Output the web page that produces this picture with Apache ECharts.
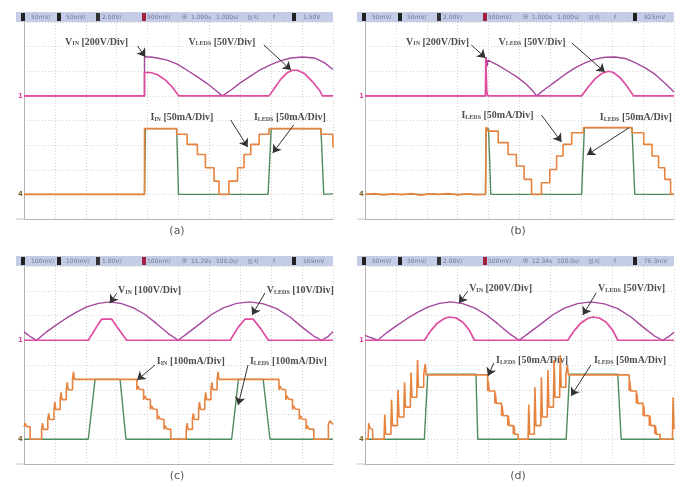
<!DOCTYPE html>
<html>
<head>
<meta charset="utf-8">
<script src="https://cdn.jsdelivr.net/npm/echarts@6/dist/echarts.min.js"></script>
<style>
html, body { margin: 0; padding: 0; background: #fff; }
#main { width: 682px; height: 487px; }
</style>
</head>
<body>
<div id="main"></div>
<script>
// every trace is [time in div, level in div], scope screen = 10 x 8 div

// (a)
var aVin = [[0,5],[3.9,5],[3.9,6.58],[4.1,6.58],[4.31,6.54],[4.63,6.45],[4.96,6.29],[5.28,6.04],[5.61,5.77],[5.93,5.5],[6.2,5.23],[6.42,5.0],[6.69,5.23],[7.01,5.54],[7.34,5.81],[7.66,6.07],[7.99,6.27],[8.31,6.43],[8.64,6.54],[9.02,6.58],[9.39,6.54],[9.72,6.35],[10,6.07]];
var aVled = [[0,5],[3.9,5],[3.9,5.95],[4.09,5.95],[4.31,5.87],[4.58,5.64],[4.79,5.37],[4.96,5.09],[5.01,5],[7.93,5],[8.1,5.3],[8.31,5.68],[8.53,5.95],[8.69,6.04],[8.85,6.04],[9.07,5.91],[9.34,5.57],[9.56,5.23],[9.66,5],[10,5]];
var aIin = [[0,1],[3.9,1],[3.9,3.67],[4.94,3.67],[4.94,3.44],[5.28,3.44],[5.28,3.03],[5.61,3.03],[5.61,2.62],[5.87,2.62],[5.87,2.08],[6.15,2.08],[6.15,1.54],[6.31,1.54],[6.31,1],[6.63,1],[6.63,1.54],[6.91,1.54],[6.91,2.08],[7.12,2.08],[7.12,2.62],[7.34,2.62],[7.34,3.03],[7.61,3.03],[7.61,3.44],[7.93,3.44],[7.93,3.67],[9.61,3.67],[9.61,3.44],[9.99,3.44],[10,2.9]];
var aIled = [[0,1],[3.9,1],[3.93,3.67],[4.94,3.67],[5.0,1],[7.9,1],[8.0,3.67],[9.61,3.67],[9.7,1],[10,1.02]];

// (b)
var bVin = [[0,5],[3.9,5],[3.92,6.58],[3.95,6.2],[3.98,6.45],[4.31,6.24],[4.63,6.0],[4.96,5.73],[5.23,5.46],[5.44,5.19],[5.55,5.0],[5.82,5.27],[6.15,5.57],[6.47,5.87],[6.8,6.14],[7.12,6.34],[7.45,6.49],[7.77,6.57],[8.1,6.58],[8.42,6.52],[8.74,6.35],[9.07,6.14],[9.39,5.87],[9.72,5.5],[10,5.16]];
var bVled = [[0,5],[3.9,5],[3.91,6.55],[3.94,5.2],[3.97,5],[7.01,5],[7.23,5.37],[7.45,5.7],[7.66,5.91],[7.88,6.0],[8.04,5.95],[8.26,5.73],[8.47,5.41],[8.69,5.0],[10,5]];
var bIin = [[0,1.0],[0.3,1.03],[0.6,0.98],[0.9,1.02],[1.2,0.99],[1.5,1.03],[1.8,0.97],[2.1,1.02],[2.4,1.0],[2.7,1.03],[3.0,0.98],[3.3,1.02],[3.6,0.99],[3.9,1.0],[3.92,3.73],[3.98,3.57],[4.31,3.57],[4.31,3.1],[4.63,3.1],[4.63,2.62],[4.9,2.62],[4.9,2.15],[5.15,2.15],[5.15,1.61],[5.39,1.61],[5.39,1],[5.71,1],[5.71,1.47],[5.98,1.47],[5.98,2.01],[6.2,2.01],[6.2,2.56],[6.41,2.56],[6.41,3.03],[6.69,3.03],[6.69,3.5],[7.07,3.5],[7.07,3.71],[8.64,3.71],[8.64,3.5],[9.02,3.5],[9.02,3.03],[9.29,3.03],[9.29,2.56],[9.5,2.56],[9.5,2.08],[9.7,2.08],[9.7,1.61],[9.89,1.61],[9.89,1],[10,1]];
var bIled = [[0,1],[3.9,1],[3.92,3.71],[4.0,3.65],[4.07,1],[7.01,1],[7.1,3.71],[8.64,3.71],[8.73,1],[10,1]];

// (c)
var cVin = [[0,5.34],[0.19,5.16],[0.41,5.0],[0.73,5.34],[1.06,5.63],[1.38,5.9],[1.7,6.14],[2.03,6.35],[2.41,6.49],[2.78,6.55],[3.16,6.48],[3.54,6.31],[3.92,6.04],[4.29,5.67],[4.67,5.27],[4.99,5.0],[5.32,5.31],[5.7,5.67],[6.07,6.04],[6.45,6.31],[6.88,6.49],[7.31,6.55],[7.75,6.47],[8.18,6.28],[8.61,5.94],[8.99,5.54],[9.36,5.18],[9.63,5.0],[9.85,5.16],[10,5.34]];
var cVled = [[0,5],[2.08,5],[2.35,5.54],[2.51,5.85],[2.84,5.85],[3.05,5.47],[3.32,5],[6.67,5],[6.94,5.54],[7.15,5.85],[7.42,5.85],[7.66,5.47],[7.91,5],[10,5]];
var cIin = [[0,1.5],[0.04,1.65],[0.08,1.52],[0.2,1.5],[0.2,1.0],[0.57,1.0],
  [0.57,1.4],[0.6,1.65],[0.63,1.4],[0.77,1.4],[0.77,1.8],[0.8,2.05],[0.83,1.8],[0.97,1.8],
  [0.97,2.2],[1.0,2.5],[1.03,2.2],[1.17,2.2],[1.17,2.6],[1.2,2.9],[1.23,2.6],[1.37,2.6],
  [1.37,3.0],[1.4,3.3],[1.43,3.0],[1.57,3.0],[1.57,3.42],[1.6,3.72],[1.63,3.42],[3.65,3.42],
  [3.65,3.0],[3.69,3.15],[3.74,3.02],[3.87,3.0],[3.87,2.6],[3.91,2.75],[3.96,2.62],[4.09,2.6],
  [4.09,2.2],[4.13,2.35],[4.18,2.22],[4.31,2.2],[4.31,1.8],[4.35,1.95],[4.4,1.82],[4.53,1.8],
  [4.53,1.4],[4.57,1.55],[4.62,1.42],[4.75,1.4],[4.75,1.0],[5.25,1.0],
  [5.25,1.4],[5.28,1.65],[5.31,1.4],[5.45,1.4],[5.45,1.8],[5.48,2.05],[5.51,1.8],[5.65,1.8],
  [5.65,2.2],[5.68,2.5],[5.71,2.2],[5.85,2.2],[5.85,2.6],[5.88,2.9],[5.91,2.6],[6.05,2.6],
  [6.05,3.0],[6.08,3.3],[6.11,3.0],[6.25,3.0],[6.25,3.42],[6.28,3.72],[6.31,3.42],[8.25,3.42],
  [8.25,3.0],[8.29,3.15],[8.34,3.02],[8.47,3.0],[8.47,2.6],[8.51,2.75],[8.56,2.62],[8.69,2.6],
  [8.69,2.2],[8.73,2.35],[8.78,2.22],[8.91,2.2],[8.91,1.8],[8.95,1.95],[9.0,1.82],[9.13,1.8],
  [9.13,1.4],[9.17,1.55],[9.22,1.42],[9.38,1.4],[9.38,1.0],[9.85,1.0],[9.85,1.6],[9.9,1.75],[10,1.6]];
var cIled = [[0,1],[2.08,1],[2.3,3.42],[3.11,3.42],[3.3,1],[6.72,1],[6.94,3.42],[7.74,3.42],[7.96,1],[10,1]];

// (d)
var dVin = [[0,5.2],[0.2,5.1],[0.41,5.0],[0.73,5.33],[1.06,5.62],[1.38,5.89],[1.7,6.13],[2.03,6.34],[2.41,6.49],[2.78,6.55],[3.16,6.48],[3.54,6.31],[3.92,6.04],[4.29,5.67],[4.67,5.27],[4.99,5.0],[5.32,5.31],[5.7,5.66],[6.07,6.02],[6.45,6.3],[6.88,6.48],[7.31,6.55],[7.75,6.47],[8.18,6.28],[8.61,5.94],[8.99,5.54],[9.36,5.18],[9.63,5.0],[9.85,5.17],[10,5.32]];
var dVled = [[0,5],[1.92,5],[2.14,5.4],[2.35,5.7],[2.57,5.88],[2.73,5.94],[2.95,5.9],[3.16,5.74],[3.38,5.4],[3.54,5],[6.56,5],[6.78,5.4],[6.99,5.7],[7.21,5.88],[7.37,5.94],[7.58,5.9],[7.8,5.74],[8.02,5.4],[8.18,5],[10,5]];
var dIin = [[0,1],[0.1,1],[0.12,1.65],[0.16,1.45],[0.24,1.4],[0.26,1.0],[0.62,1.0],
  [0.62,1.2],[0.64,2.0],[0.67,1.2],[0.84,1.2],[0.84,1.55],[0.86,2.6],[0.89,1.55],[1.05,1.55],
  [1.05,1.9],[1.07,3.0],[1.1,1.9],[1.26,1.9],[1.26,2.3],[1.28,3.3],[1.31,2.3],[1.47,2.3],
  [1.47,2.7],[1.49,3.7],[1.52,2.7],[1.68,2.7],[1.68,3.1],[1.7,4.2],[1.73,3.1],[1.9,3.1],
  [1.9,3.6],[1.95,4.05],[1.98,3.6],[3.97,3.6],
  [3.97,2.95],[3.99,3.35],[4.02,2.95],[4.2,2.95],[4.2,2.45],[4.22,2.85],[4.25,2.45],[4.42,2.45],
  [4.42,1.95],[4.44,2.35],[4.47,1.95],[4.62,1.95],[4.62,1.55],[4.64,1.95],[4.67,1.55],[4.8,1.55],
  [4.8,1.2],[4.82,1.55],[4.85,1.2],[4.95,1.2],[4.95,1.0],[5.28,1.0],
  [5.28,1.2],[5.3,2.4],[5.33,1.2],[5.48,1.2],[5.48,1.55],[5.5,3.1],[5.53,1.55],[5.69,1.55],
  [5.69,1.9],[5.71,3.5],[5.74,1.9],[5.9,1.9],[5.9,2.3],[5.92,3.8],[5.95,2.3],[6.1,2.3],
  [6.1,2.7],[6.12,4.2],[6.15,2.7],[6.3,2.7],[6.3,3.1],[6.32,4.4],[6.35,3.1],[6.5,3.1],
  [6.5,3.6],[6.55,4.0],[6.58,3.6],[8.55,3.6],
  [8.55,2.95],[8.57,3.35],[8.6,2.95],[8.78,2.95],[8.78,2.45],[8.8,2.85],[8.83,2.45],[9.0,2.45],
  [9.0,1.95],[9.02,2.35],[9.05,1.95],[9.2,1.95],[9.2,1.55],[9.22,1.95],[9.25,1.55],[9.38,1.55],
  [9.38,1.2],[9.4,1.55],[9.43,1.2],[9.55,1.2],[9.55,1.0],[9.95,1.0],[9.97,2.7],[10,1.4]];
var dIled = [[0,1],[1.92,1],[2.03,3.63],[3.59,3.63],[3.65,1],[6.51,1],[6.62,3.63],[8.18,3.63],[8.29,1],[10,1]];

// notes: [x, y, letter, subscript, scale]
var aNotes = [[1.33,7.19,'V','IN','[200V/Div]'],[5.32,7.19,'V','LEDS','[50V/Div]'],[4.09,4.14,'I','IN','[50mA/Div]'],[7.44,4.14,'I','LEDS','[50mA/Div]']];
var bNotes = [[1.33,7.19,'V','IN','[200V/Div]'],[4.32,7.19,'V','LEDS','[50V/Div]'],[3.12,4.22,'I','LEDS','[50mA/Div]'],[7.6,4.14,'I','LEDS','[50mA/Div]']];
var cNotes = [[3.04,7.03,'V','IN','[100V/Div]'],[7.86,7.03,'V','LEDS','[10V/Div]'],[4.3,4.16,'I','IN','[100mA/Div]'],[7.31,4.16,'I','LEDS','[100mA/Div]']];
var dNotes = [[3.37,7.11,'V','IN','[200V/Div]'],[7.54,7.11,'V','LEDS','[50V/Div]'],[4.24,4.2,'I','LEDS','[50mA/Div]'],[7.41,4.2,'I','LEDS','[50mA/Div]']];

// arrows: [x1, y1, x2, y2]
var aArrows = [[3.67,7.03,3.93,6.58],[7.76,7.07,8.64,6.05],[6.69,4.02,7.24,2.92],[8.73,3.82,8.05,2.68]];
var bArrows = [[3.44,7.07,3.9,6.54],[6.69,7.15,7.76,5.97],[5.71,4.22,6.36,3.13],[8.54,3.7,7.18,2.6]];
var cArrows = [[3.0,6.9,2.78,6.5],[7.8,6.91,7.38,6.02],[4.24,4.0,3.66,3.39],[7.25,4.0,6.93,2.38]];
var dArrows = [[3.33,6.99,3.04,6.5],[7.48,6.91,7.05,6.02],[4.17,4.08,3.98,3.56],[7.31,4.0,6.67,2.75]];

// scope status bar text
var aHead = ['50mV/','50mV/','2.00V/','500mV/','1.000s','1.000s/','정지','f','1.50V'];
var bHead = ['50mV/','50mV/','2.00V/','500mV/','1.000s','1.000s/','정지','f','925mV'];
var cHead = ['100mV/','100mV/','1.00V/','100mV/','11.29s','100.0s/','정지','f','169mV'];
var dHead = ['50mV/','50mV/','2.00V/','500mV/','12.34s','100.0s/','정지','f','76.3mV'];

var captions = ['(a)','(b)','(c)','(d)'];

var panels = [
    {vin: aVin, vled: aVled, iin: aIin, iled: aIled, notes: aNotes, arrows: aArrows, head: aHead},
    {vin: bVin, vled: bVled, iin: bIin, iled: bIled, notes: bNotes, arrows: bArrows, head: bHead},
    {vin: cVin, vled: cVled, iin: cIin, iled: cIled, notes: cNotes, arrows: cArrows, head: cHead},
    {vin: dVin, vled: dVled, iin: dIin, iled: dIled, notes: dNotes, arrows: dArrows, head: dHead}
];

var boxes = [
    {left: 24, top: 22, width: 309, height: 197},
    {left: 365, top: 22, width: 309, height: 197},
    {left: 24, top: 266, width: 309, height: 198},
    {left: 365, top: 266, width: 309, height: 198}
];

var dom = document.getElementById('main');
var chart = echarts.init(dom, null, {width: 682, height: 487});

var grid = [], xAxis = [], yAxis = [], series = [], graphic = [];
var serif = 'Liberation Serif';

panels.forEach(function (p, i) {
    var b = boxes[i];
    grid.push({left: b.left, top: b.top, width: b.width, height: b.height, containLabel: false});
    xAxis.push({
        gridIndex: i, type: 'value', min: 0, max: 10, interval: 1,
        axisLabel: {show: false}, axisTick: {show: false},
        axisLine: {show: true, onZero: false, lineStyle: {color: '#b4b4b4', width: 1}},
        splitLine: {show: true, lineStyle: {color: '#d4d4d4', type: [1, 2], width: 1}}
    });
    yAxis.push({
        gridIndex: i, type: 'value', min: 0, max: 8, interval: 1,
        axisLabel: {show: false}, axisTick: {show: false},
        axisLine: {show: true, onZero: false, lineStyle: {color: '#b4b4b4', width: 1}},
        splitLine: {show: true, lineStyle: {color: '#d4d4d4', type: [1, 2], width: 1}}
    });

    function trace(data, color, w) {
        return {
            type: 'line', xAxisIndex: i, yAxisIndex: i, data: data,
            showSymbol: false, symbol: 'none', silent: true, animation: false,
            lineStyle: {color: color, width: w}
        };
    }
    var vin = trace(p.vin, '#a5479d', 1.4);
    vin.markLine = {
        silent: true, animation: false, symbol: ['none', 'arrow'], symbolSize: 8,
        label: {show: false},
        itemStyle: {color: '#333'},
        lineStyle: {color: '#333', width: 1, type: 'solid'},
        data: p.arrows.map(function (a) { return [{coord: [a[0], a[1]]}, {coord: [a[2], a[3]]}]; })
    };
    series.push(vin);
    series.push(trace(p.vled, '#e04c9f', 1.7));
    series.push(trace(p.iled, '#4f8b5e', 1.4));
    series.push(trace(p.iin, '#e6843f', 1.6));

    series.push({
        type: 'scatter', xAxisIndex: i, yAxisIndex: i, symbolSize: 0, silent: true, animation: false,
        data: p.notes.map(function (n) { return {value: [n[0], n[1]], main: n[2], sub: n[3], rest: n[4]}; }),
        label: {
            show: true, position: 'right', distance: 0,
            formatter: function (q) { return '{m|' + q.data.main + '}{s|' + q.data.sub + '}{t| ' + q.data.rest + '}'; },
            rich: {
                m: {fontFamily: serif, fontWeight: 'bold', fontSize: 10, color: '#222', lineHeight: 12},
                s: {fontFamily: serif, fontWeight: 'bold', fontSize: 6, color: '#222', lineHeight: 12, verticalAlign: 'bottom', padding: [0, 0, 1, 0]},
                t: {fontFamily: serif, fontWeight: 'bold', fontSize: 10, color: '#222', lineHeight: 12}
            }
        }
    });

    // status bar on top of the screen
    var ox = b.left - 8, oy = b.top - 10;
    var kids = [{type: 'rect', shape: {x: ox, y: oy, width: 317, height: 10}, style: {fill: '#c5cce6'}}];
    [[5, '#222'], [41, '#222'], [80, '#333'], [126, '#a0203e'], [276, '#222']].forEach(function (s) {
        kids.push({type: 'rect', shape: {x: ox + s[0], y: oy + 1, width: 4, height: 8}, style: {fill: s[1]}});
    });
    var tx = [15, 50, 86, 131, 175, 200, 231, 257, 287];
    p.head.forEach(function (t, k) {
        kids.push({type: 'text', x: ox + tx[k], y: oy + 5, style: {text: t, fill: '#6f7896', font: '6px "DejaVu Sans"', verticalAlign: 'middle'}});
    });
    kids.push({type: 'text', x: ox + 165, y: oy + 5, style: {text: '⊕', fill: '#8890aa', font: '8px "DejaVu Sans"', verticalAlign: 'middle'}});
    // bottom rule of the screen reaches the margin
    kids.push({type: 'line', shape: {x1: ox, y1: b.top + b.height, x2: b.left, y2: b.top + b.height}, style: {stroke: '#c4c4c4', lineWidth: 1}});
    // channel ground markers in the left margin
    kids.push({type: 'text', x: ox + 2, y: b.top + b.height * 0.375, style: {text: '1', fill: '#e04c9f', font: 'bold 7px "DejaVu Sans"', verticalAlign: 'middle'}});
    kids.push({type: 'text', x: ox + 2, y: b.top + b.height * 0.875, style: {text: '4', fill: '#7a6a30', font: 'bold 7px "DejaVu Sans"', verticalAlign: 'middle'}});
    graphic.push({type: 'group', silent: true, children: kids});

    // caption under the screen
    graphic.push({
        type: 'text', x: b.left + 153, y: b.top + b.height + 12, silent: true,
        style: {text: captions[i], fill: '#555', font: '11px "DejaVu Sans"', align: 'center', verticalAlign: 'middle'}
    });
});

var option = {
    animation: false,
    backgroundColor: '#fff',
    grid: grid,
    xAxis: xAxis,
    yAxis: yAxis,
    series: series,
    graphic: graphic
};

chart.setOption(option);
</script>
</body>
</html>
